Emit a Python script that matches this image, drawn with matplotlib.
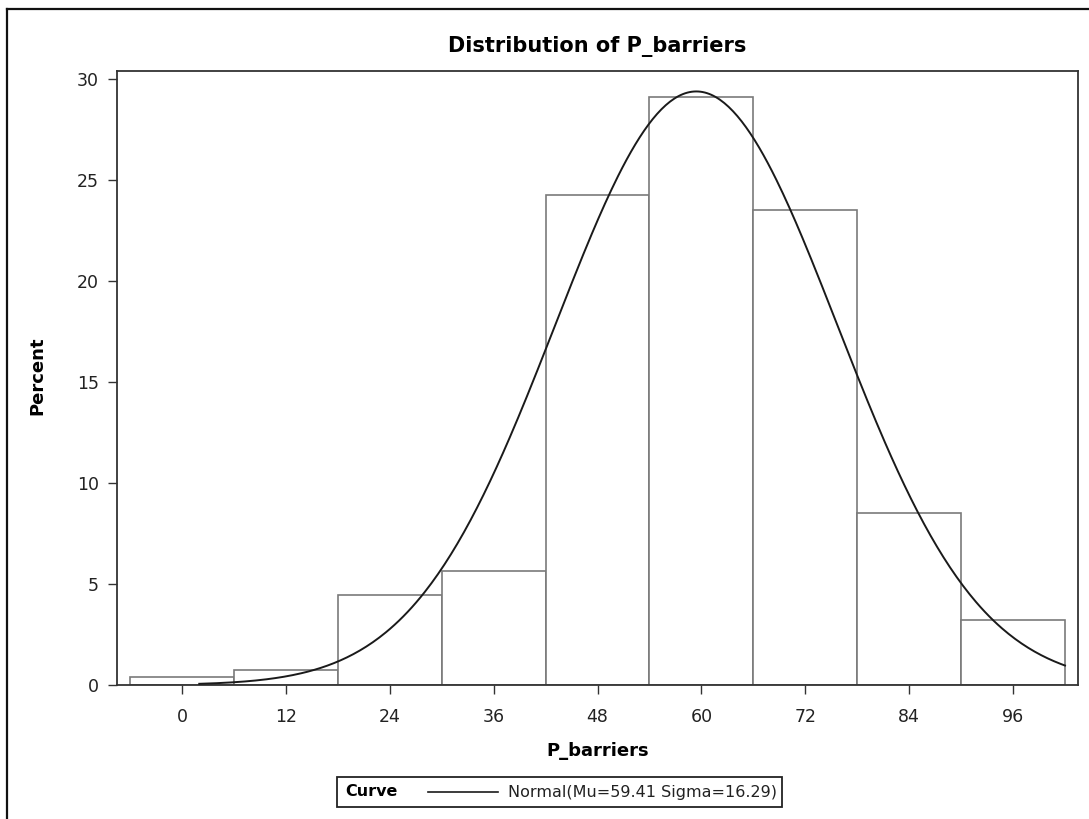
import matplotlib
matplotlib.use("Agg")
import matplotlib.pyplot as plt
from matplotlib.lines import Line2D
import numpy as np

# histogram data (percent per bin, bin width 12)
bin_mids = [0, 12, 24, 36, 48, 60, 72, 84, 96]
percents = [0.40, 0.75, 4.45, 5.63, 24.25, 29.1, 23.5, 8.5, 3.2]
bin_width = 12

# fitted normal curve
mu = 59.41
sigma = 16.29

xticks = [0, 12, 24, 36, 48, 60, 72, 84, 96]
yticks = [0, 5, 10, 15, 20, 25, 30]

W, H = 1089, 819
fig = plt.figure(figsize=(W / 100, H / 100), dpi=100)
ax = fig.add_axes([117 / W, 1 - 685 / H, (1078 - 117) / W, (685 - 71) / H])

ax.bar(bin_mids, percents, width=bin_width, facecolor="white",
       edgecolor="#7a7a7a", linewidth=1.2, zorder=2)

xc = np.linspace(2, 102, 400)
yc = 100 * bin_width * np.exp(-0.5 * ((xc - mu) / sigma) ** 2) / (sigma * np.sqrt(2 * np.pi))
ax.plot(xc, yc, color="#1a1a1a", lw=1.4, zorder=3)

ax.set_xlim(-7.5, 103.5)
ax.set_ylim(0, 30.4)
ax.set_xticks(xticks)
ax.set_yticks(yticks)
ax.tick_params(labelsize=12.5, length=6.5, width=1, color="#333333", labelcolor="#222222")
ax.tick_params(axis="x", pad=10)
ax.tick_params(axis="y", pad=6.5)
for s in ax.spines.values():
    s.set_color("#333333")
    s.set_linewidth(1.3)

ax.set_title("Distribution of P_barriers", fontsize=15, fontweight="bold", pad=14)
ax.set_xlabel("P_barriers", fontsize=13, fontweight="bold", va="center")
ax.set_ylabel("Percent", fontsize=13, fontweight="bold", va="center", ha="center")
ax.xaxis.set_label_coords(0.5, -0.1075)
ax.yaxis.set_label_coords(-0.0832, 0.503)

# legend box below the axes
lx0, lx1, ly0, ly1 = 337 / W, 782 / W, 1 - 807 / H, 1 - 777 / H
fig.patches.append(plt.Rectangle((lx0, ly0), lx1 - lx0, ly1 - ly0, transform=fig.transFigure,
                                 facecolor="white", edgecolor="#222222", lw=1.3))
ymid = (ly0 + ly1) / 2
fig.text(345 / W, ymid, "Curve", fontsize=11.5, fontweight="bold", va="center", ha="left")
fig.add_artist(Line2D([428 / W, 498 / W], [ymid, ymid], transform=fig.transFigure,
                      color="#1a1a1a", lw=1.2))
fig.text(508 / W, ymid, "Normal(Mu=59.41 Sigma=16.29)", fontsize=11.5, va="center", ha="left",
         color="#222222")

# outer frame (top and left edges)
fig.add_artist(Line2D([7 / W, 1], [1 - 9 / H, 1 - 9 / H], transform=fig.transFigure,
                      color="#111111", lw=1.6))
fig.add_artist(Line2D([7 / W, 7 / W], [0, 1 - 9 / H], transform=fig.transFigure,
                      color="#111111", lw=1.6))

fig.savefig("out.png", dpi=100)
